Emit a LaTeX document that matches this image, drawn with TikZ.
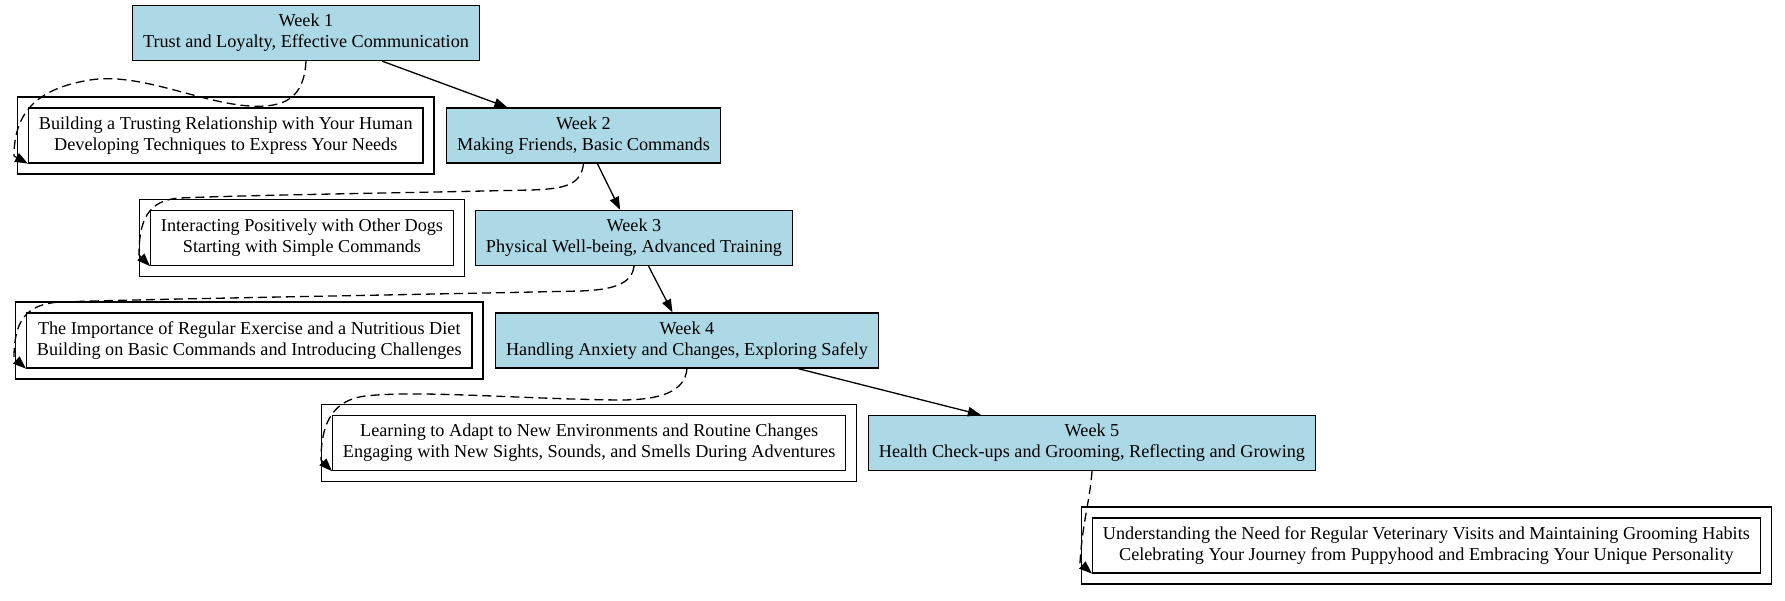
\documentclass[tikz,border=0pt]{standalone}
\usepackage{fontspec}
\setmainfont{Liberation Serif}
\usetikzlibrary{arrows.meta,fit}
\definecolor{lb}{HTML}{ADD8E6}
\begin{document}
\begin{tikzpicture}[x=1pt,y=-1pt,
  lbl/.style={font=\fontsize{18.2}{21}\selectfont, align=center},
  week/.style={lbl, draw, fill=lb, line width=1.3pt, minimum height=55pt, inner xsep=10.3pt, inner ysep=0pt},
  topic/.style={lbl, draw, line width=1.3pt, minimum height=55pt, inner xsep=10.3pt, inner ysep=0pt},
  cluster/.style={draw, line width=1.3pt, inner sep=10.4pt},
  flow/.style={line width=1.3pt, -{Triangle[length=13pt,width=9.5pt]}},
  link/.style={line width=1.3pt, dash pattern=on 9pt off 5pt, -{Triangle[length=13pt,width=9.5pt]}}]
\useasboundingbox (0,0) rectangle (1785,600);

\node[week] (w1) at (306,33) {Week 1\\Trust and Loyalty, Effective Communication};
\node[week] (w2) at (583.5,135.5) {Week 2\\Making Friends, Basic Commands};
\node[week] (w3) at (634,238) {Week 3\\Physical Well-being, Advanced Training};
\node[week] (w4) at (687,340.5) {Week 4\\Handling Anxiety and Changes, Exploring Safely};
\node[week] (w5) at (1092,443) {Week 5\\Health Check-ups and Grooming, Reflecting and Growing};

\node[topic, anchor=west] (t1) at (28,135.5) {Building a Trusting Relationship with Your Human\\Developing Techniques to Express Your Needs};
\node[topic, anchor=west] (t2) at (150,238) {Interacting Positively with Other Dogs\\Starting with Simple Commands};
\node[topic, anchor=west] (t3) at (26,340.5) {The Importance of Regular Exercise and a Nutritious Diet\\Building on Basic Commands and Introducing Challenges};
\node[topic, anchor=west] (t4) at (332,443) {Learning to Adapt to New Environments and Routine Changes\\Engaging with New Sights, Sounds, and Smells During Adventures};
\node[topic, anchor=west] (t5) at (1092,545.5) {Understanding the Need for Regular Veterinary Visits and Maintaining Grooming Habits\\Celebrating Your Journey from Puppyhood and Embracing Your Unique Personality};

\node[cluster, fit=(t1)] (k1) {};
\node[cluster, fit=(t2)] (k2) {};
\node[cluster, fit=(t3)] (k3) {};
\node[cluster, fit=(t4)] (k4) {};
\node[cluster, fit=(t5)] (k5) {};

\draw[flow] (w1) -- (w2);
\draw[flow] (w2) -- (w3);
\draw[flow] (w3) -- (w4);
\draw[flow] (w4) -- (w5);

\draw[link] (w1.south) .. controls (304,98) and (285,108) .. (250,106) .. controls (200,103) and (140,72) .. (90,80) .. controls (40,88) and (14,110) .. (14,156) -- (t1.south west);
\draw[link] (w2.south) .. controls (581,185) and (565,189) .. (530,190) .. controls (400,193) and (250,195) .. (180,198) .. controls (148,200) and (139,220) .. (139,255) -- (t2.south west);
\draw[link] (w3.south) .. controls (632,285) and (610,290) .. (580,291) .. controls (400,295) and (150,299) .. (60,302) .. controls (25,304) and (14,322) .. (14,358) -- (t3.south west);
\draw[link] (w4.south) .. controls (685,392) and (660,400) .. (620,400) .. controls (520,399) and (420,390) .. (365,396) .. controls (335,400) and (321,420) .. (321,460) -- (t4.south west);
\draw[link] (w5.south) .. controls (1090,500) and (1082,525) .. (1080,563) -- (t5.south west);
\end{tikzpicture}
\end{document}
